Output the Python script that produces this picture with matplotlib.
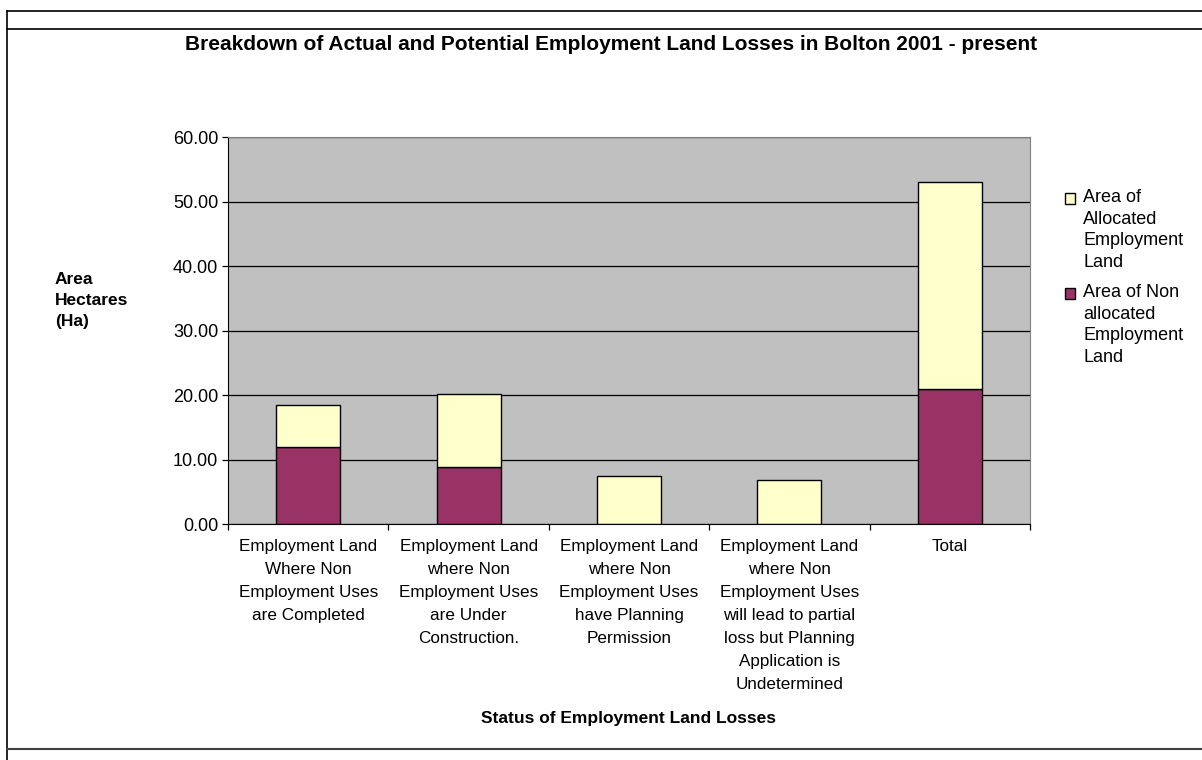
import matplotlib.pyplot as plt
import matplotlib.patches as mpatches
from matplotlib.lines import Line2D
from matplotlib.legend_handler import HandlerPatch
from matplotlib.ticker import FixedLocator, FuncFormatter

plt.rcParams["font.family"] = ["Liberation Sans", "DejaVu Sans"]

categories = [
    "Employment Land\nWhere Non\nEmployment Uses\nare Completed",
    "Employment Land\nwhere Non\nEmployment Uses\nare Under\nConstruction.",
    "Employment Land\nwhere Non\nEmployment Uses\nhave Planning\nPermission",
    "Employment Land\nwhere Non\nEmployment Uses\nwill lead to partial\nloss but Planning\nApplication is\nUndetermined",
    "Total",
]
non_allocated = [12.0, 8.9, 0.0, 0.0, 20.9]
allocated = [6.5, 11.3, 7.45, 6.8, 32.1]
y_ticks = [0, 10, 20, 30, 40, 50, 60]

label_allocated = "Area of\nAllocated\nEmployment\nLand"
label_non = "Area of Non\nallocated\nEmployment\nLand"


def top_square(legend, orig_handle, xdescent, ydescent, width, height, fontsize):
    # put the little square next to the first line of the label, like Excel
    shift = 1.75 * fontsize
    return mpatches.Rectangle((-xdescent, -ydescent + shift), width, height)


fig = plt.figure(figsize=(12.02, 7.6), dpi=100)
ax = fig.add_axes([0.1897, 0.3105, 0.6672, 0.5092])
ax.set_facecolor("#C0C0C0")

x = list(range(len(categories)))
b1 = ax.bar(x, non_allocated, width=0.4, color="#993366", edgecolor="black", linewidth=1)
b2 = ax.bar(x, allocated, width=0.4, bottom=non_allocated, color="#FFFFCC",
            edgecolor="black", linewidth=1)

ax.set_xlim(-0.5, len(categories) - 0.5)
ax.set_ylim(0, 60)
ax.set_yticks(y_ticks)
ax.yaxis.set_major_formatter(FuncFormatter(lambda v, p: "%.2f" % v))
ax.yaxis.grid(True, color="black", linewidth=0.9)
ax.set_axisbelow(True)

# ticks on category boundaries, labels in the middle
ax.xaxis.set_major_locator(FixedLocator([i - 0.5 for i in range(len(categories) + 1)]))
ax.xaxis.set_major_formatter(FuncFormatter(lambda v, p: ""))
ax.xaxis.set_minor_locator(FixedLocator(x))
ax.set_xticklabels(categories, minor=True)
ax.tick_params(axis="x", which="minor", length=0, pad=11, labelsize=12.3)
ax.tick_params(axis="x", which="major", length=4, width=0.9, direction="out")
ax.tick_params(axis="y", length=4, width=0.9, direction="out", pad=3, labelsize=13)
for t in ax.get_xticklabels(minor=True):
    t.set_linespacing(1.66)

ax.spines["left"].set_color("black")
ax.spines["bottom"].set_color("black")
ax.spines["top"].set_color("#808080")
ax.spines["right"].set_color("#808080")

fig.text(0.508, 0.941, "Breakdown of Actual and Potential Employment Land Losses in Bolton 2001 - present",
         ha="center", va="center", fontsize=15, fontweight="bold")
fig.text(0.523, 0.054, "Status of Employment Land Losses", ha="center", va="center",
         fontsize=12.5, fontweight="bold")
fig.text(0.0458, 0.642, "Area\nHectares\n(Ha)", ha="left", va="top", fontsize=12.5,
         fontweight="bold", linespacing=1.5)

leg = ax.legend([b2[0], b1[0]], [label_allocated, label_non], loc="upper left",
                bbox_to_anchor=(1065 / 1202, 1 - 189 / 760), bbox_transform=fig.transFigure,
                frameon=False, fontsize=13, borderpad=0, borderaxespad=0,
                handlelength=0.55, handleheight=0.55, handletextpad=0.45, labelspacing=0.75,
                handler_map={mpatches.Rectangle: HandlerPatch(patch_func=top_square)})
for t in leg.get_texts():
    t.set_linespacing(1.35)

# outer frame lines of the chart object
fig.add_artist(Line2D([0.0058, 1.0], [0.9855, 0.9855], color="black", linewidth=1.2))
fig.add_artist(Line2D([0.0058, 1.0], [0.9618, 0.9618], color="black", linewidth=1.2))
fig.add_artist(Line2D([0.0058, 0.0058], [0.0, 0.9855], color="black", linewidth=1.2))
fig.add_artist(Line2D([0.0058, 1.0], [0.0145, 0.0145], color="#404040", linewidth=1.5))

fig.savefig("out.png", dpi=100)
